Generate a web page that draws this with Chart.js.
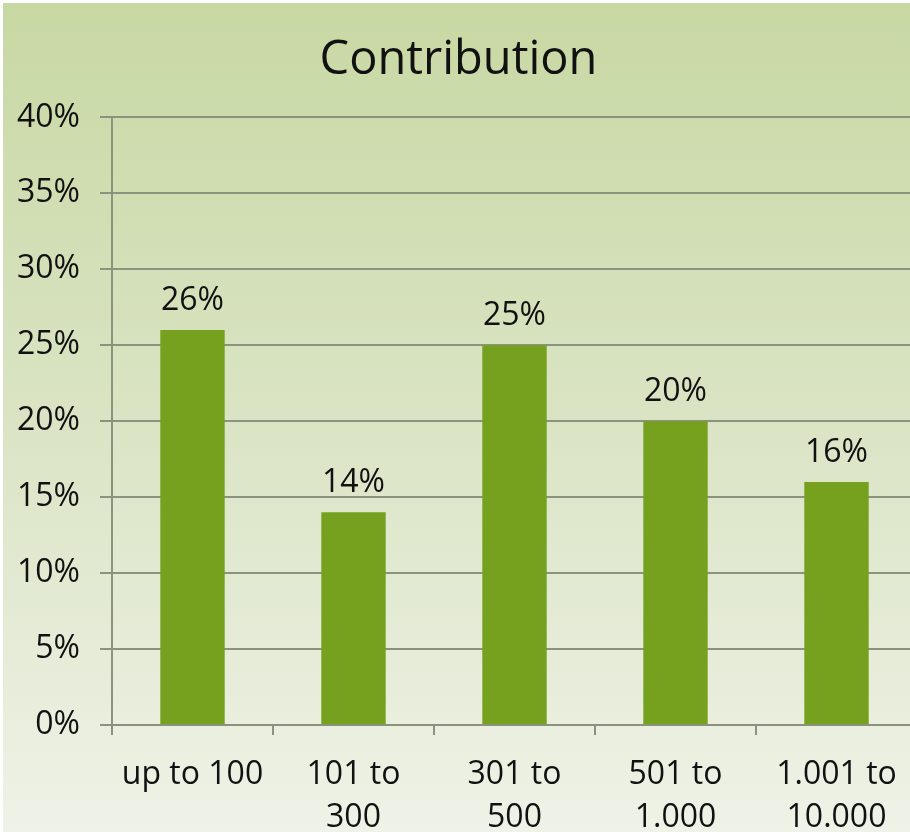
<!DOCTYPE html>
<html>
<head>
<meta charset="utf-8">
<script src="https://cdn.jsdelivr.net/npm/chart.js@4"></script>
<style>
  html, body { margin: 0; padding: 0; background: #fff; overflow: hidden; }
  #wrap { position: relative; width: 920px; height: 835px; }
</style>
</head>
<body>
<div id="wrap"><canvas id="chart"></canvas></div>
<script>
const categories = [['up to 100'], ['101 to', '300'], ['301 to', '500'], ['501 to', '1.000'], ['1.001 to', '10.000']];
const contribution = [26, 14, 25, 20, 16];
const yTicks = [0, 5, 10, 15, 20, 25, 30, 35, 40];

const fontFamily = '"Open Sans", Lato, sans-serif';
const gridColor = '#8b937f';

// gradient panel behind the chart
const panelBg = {
  id: 'panelBg',
  beforeDraw(chart) {
    const c = chart.ctx;
    const g = c.createLinearGradient(0, 3, 0, 832);
    g.addColorStop(0, '#c8d8a3');
    g.addColorStop(0.5, '#dae4c4');
    g.addColorStop(1, '#eff2e7');
    c.save();
    c.fillStyle = g;
    c.fillRect(3, 3, chart.width, 829);
    c.restore();
  }
};

// value labels above bars
const barLabels = {
  id: 'barLabels',
  afterDatasetsDraw(chart) {
    const c = chart.ctx;
    c.save();
    c.font = '32px ' + fontFamily;
    c.fillStyle = '#111';
    c.textAlign = 'center';
    c.textBaseline = 'alphabetic';
    chart.getDatasetMeta(0).data.forEach((bar, i) => {
      c.fillText(contribution[i] + '%', bar.x, bar.y - 20);
    });
    c.restore();
  }
};

new Chart(document.getElementById('chart'), {
  type: 'bar',
  data: {
    labels: categories,
    datasets: [{
      label: 'Contribution',
      data: contribution,
      backgroundColor: '#76a11f',
      borderWidth: 0,
      categoryPercentage: 1,
      barPercentage: 0.4
    }]
  },
  options: {
    responsive: true,
    maintainAspectRatio: false,
    animation: false,
    layout: { padding: { left: 0, right: 3, top: 0, bottom: 0 } },
    plugins: {
      legend: { display: false },
      tooltip: { enabled: false },
      title: {
        display: true,
        text: 'Contribution',
        color: '#111',
        font: { family: fontFamily, size: 47, weight: 'normal' },
        padding: { top: 32, bottom: 29 }
      }
    },
    scales: {
      x: {
        grid: {
          drawOnChartArea: false,
          color: gridColor,
          lineWidth: 2,
          tickLength: 10
        },
        border: { color: gridColor, width: 2 },
        ticks: {
          color: '#111',
          padding: 18,
          maxRotation: 0,
          font: { family: fontFamily, size: 32, lineHeight: 1.35 }
        },
        afterFit(scale) { scale.height = 110; }
      },
      y: {
        min: 0,
        max: 40,
        afterBuildTicks(scale) { scale.ticks = yTicks.map(v => ({ value: v })); },
        grid: {
          color: gridColor,
          lineWidth: 2,
          tickLength: 12
        },
        border: { color: gridColor, width: 2 },
        ticks: {
          color: '#111',
          padding: 20,
          font: { family: fontFamily, size: 32 },
          callback: v => v + '%'
        },
        afterFit(scale) { scale.width = 112; }
      }
    }
  },
  plugins: [panelBg, barLabels]
});
</script>
</body>
</html>
